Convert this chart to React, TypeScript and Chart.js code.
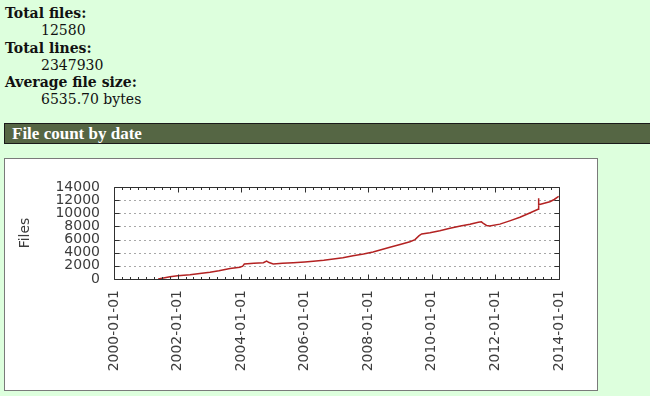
import React, { useEffect, useRef } from "react";
import { Chart, registerables } from "chart.js";

Chart.register(...registerables);

// ---- data ----
const dates: number[] = [
  2001.39, 2001.6, 2001.76, 2002.0, 2002.39, 2002.7, 2003.02, 2003.3, 2003.65, 2003.96,
  2004.05, 2004.1, 2004.4, 2004.7, 2004.8, 2004.88, 2005.01, 2005.3, 2005.64, 2006.0,
  2006.27, 2006.6, 2006.9, 2007.2, 2007.52, 2007.85, 2008.15, 2008.4, 2008.68, 2009.0,
  2009.31, 2009.47, 2009.6, 2009.68, 2009.94, 2010.25, 2010.57, 2010.9, 2011.2, 2011.46,
  2011.56, 2011.62, 2011.72, 2011.82, 2012.14, 2012.45, 2012.77, 2013.08, 2013.34, 2013.35,
  2013.37, 2013.71, 2013.85, 2013.99,
];
const files: number[] = [
  0, 200, 350, 500, 650, 820, 1020, 1250, 1600, 1800,
  1950, 2280, 2380, 2480, 2740, 2500, 2300, 2380, 2480, 2600,
  2700, 2850, 3040, 3250, 3550, 3800, 4100, 4450, 4820, 5250,
  5680, 6000, 6600, 6850, 7050, 7350, 7720, 8050, 8330, 8650,
  8700, 8450, 8150, 8050, 8350, 8850, 9390, 10050, 10600, 12300,
  11300, 11750, 12100, 12580,
];
const xTickYears: number[] = [2000, 2002, 2004, 2006, 2008, 2010, 2012, 2014];
const yTicks: number[] = [0, 2000, 4000, 6000, 8000, 10000, 12000, 14000];

const summary: { label: string; value: string }[] = [
  { label: "Total files:", value: "12580" },
  { label: "Total lines:", value: "2347930" },
  { label: "Average file size:", value: "6535.70 bytes" },
];

const framePlugin = {
  id: "gnuFrame",
  beforeDatasetsDraw(chart: any) {
    const { ctx, chartArea: a, scales } = chart;
    const ys = scales.y;
    ctx.save();
    ctx.strokeStyle = "#a8a8a8";
    ctx.lineWidth = 1;
    ctx.setLineDash([2, 3]);
    for (const v of yTicks) {
      if (v === yTicks[0] || v === yTicks[yTicks.length - 1]) continue;
      const y = Math.round(ys.getPixelForValue(v)) + 0.5;
      ctx.beginPath();
      ctx.moveTo(a.left, y);
      ctx.lineTo(a.right, y);
      ctx.stroke();
    }
    ctx.restore();
  },
  afterDatasetsDraw(chart: any) {
    const { ctx, chartArea: a, scales } = chart;
    const xs = scales.x;
    const ys = scales.y;
    ctx.save();
    ctx.strokeStyle = "#303030";
    ctx.lineWidth = 1;
    ctx.setLineDash([]);
    const L = Math.round(a.left) + 0.5;
    const R = Math.round(a.right) + 0.5;
    const T = Math.round(a.top) + 0.5;
    const B = Math.round(a.bottom) + 0.5;
    ctx.beginPath();
    ctx.rect(L, T, R - L, B - T);
    ctx.stroke();
    ctx.beginPath();
    // x ticks: major every 2 years, minor each quarter
    const x0 = xTickYears[0];
    const x1 = xTickYears[xTickYears.length - 1];
    for (let q = 0; q <= (x1 - x0) * 4; q++) {
      const v = x0 + q / 4;
      const major = q % 8 === 0;
      const len = major ? 5 : 2.5;
      const x = Math.round(xs.getPixelForValue(v)) + 0.5;
      ctx.moveTo(x, B);
      ctx.lineTo(x, B - len);
      ctx.moveTo(x, T);
      ctx.lineTo(x, T + len);
    }
    for (const v of yTicks) {
      const y = Math.round(ys.getPixelForValue(v)) + 0.5;
      ctx.moveTo(L, y);
      ctx.lineTo(L + 5, y);
      ctx.moveTo(R, y);
      ctx.lineTo(R - 5, y);
    }
    ctx.stroke();
    ctx.restore();
  },
};

function FileChart() {
  const ref = useRef<HTMLCanvasElement | null>(null);
  useEffect(() => {
    if (!ref.current) return;
    const tickFont = { family: "'DejaVu Sans'", size: 14 };
    const chart = new Chart(ref.current, {
      type: "line",
      data: {
        datasets: [
          {
            label: "Files",
            data: dates.map((d, i) => ({ x: d, y: files[i] })),
            borderColor: "#b32222",
            borderWidth: 1.5,
            pointRadius: 0,
            tension: 0,
            fill: false,
          },
        ],
      },
      options: {
        animation: false,
        responsive: false,
        maintainAspectRatio: false,
        layout: { padding: { left: 0, top: 28, right: 38, bottom: 0 } },
        plugins: { legend: { display: false }, tooltip: { enabled: false } },
        scales: {
          x: {
            type: "linear",
            min: xTickYears[0],
            max: xTickYears[xTickYears.length - 1],
            grid: { display: false, drawTicks: false },
            border: { display: false },
            afterBuildTicks: (scale: any) => {
              scale.ticks = xTickYears.map((v) => ({ value: v }));
            },
            afterFit: (scale: any) => {
              scale.height = 111;
            },
            ticks: {
              autoSkip: false,
              minRotation: 90,
              maxRotation: 90,
              padding: 11,
              color: "#3c3c3c",
              font: tickFont,
              callback: (v: any) => `${v}-01-01`,
            },
          },
          y: {
            type: "linear",
            min: yTicks[0],
            max: yTicks[yTicks.length - 1],
            grid: { display: false, drawTicks: false },
            border: { display: false },
            afterBuildTicks: (scale: any) => {
              scale.ticks = yTicks.map((v) => ({ value: v }));
            },
            afterFit: (scale: any) => {
              scale.width = 109;
            },
            title: {
              display: true,
              text: "Files",
              color: "#3c3c3c",
              font: tickFont,
              padding: { top: 12, bottom: 0 },
            },
            ticks: {
              autoSkip: false,
              padding: 14,
              color: "#3c3c3c",
              font: tickFont,
              callback: (v: any) => String(v),
            },
          },
        },
      },
      plugins: [framePlugin],
    });
    return () => chart.destroy();
  }, []);
  return <canvas ref={ref} width={592} height={231} style={{ display: "block", width: 592, height: 231 }} />;
}

export default function App() {
  return (
    <div
      style={{
        position: "fixed",
        left: 0,
        top: 0,
        width: 650,
        height: 396,
        background: "#dfd",
        overflow: "hidden",
        fontFamily: "'DejaVu Serif', serif",
        color: "#111",
      }}
    >
      <div style={{ position: "absolute", left: 5, top: 5, fontSize: 14, lineHeight: "17.3px" }}>
        {summary.map((s) => (
          <React.Fragment key={s.label}>
            <div style={{ fontWeight: "bold" }}>{s.label}</div>
            <div style={{ marginLeft: 36 }}>{s.value}</div>
          </React.Fragment>
        ))}
      </div>
      <div
        style={{
          position: "absolute",
          left: 4,
          top: 123,
          width: 700,
          height: 21,
          boxSizing: "border-box",
          background: "#564",
          border: "1px solid #1a1a1a",
          color: "#fff",
          fontFamily: "'Liberation Serif', serif",
          fontWeight: "bold",
          fontSize: 17,
          lineHeight: "19px",
          paddingLeft: 7,
          whiteSpace: "nowrap",
        }}
      >
        File count by date
      </div>
      <div
        style={{
          position: "absolute",
          left: 4,
          top: 158,
          width: 594,
          height: 233,
          boxSizing: "border-box",
          background: "#fff",
          border: "1px solid #7a7a7a",
        }}
      >
        <FileChart />
      </div>
    </div>
  );
}
